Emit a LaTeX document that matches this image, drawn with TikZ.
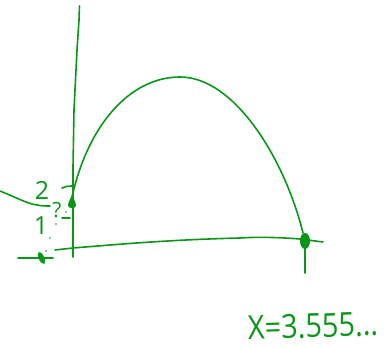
\documentclass[tikz,border=0pt]{standalone}
\usepackage{fontspec}
\setsansfont{Open Sans}
\definecolor{penGreen}{RGB}{10,150,25}
\tikzset{
  pen/.style={draw=penGreen,line width=1.6pt,line cap=round,line join=round},
  blob/.style={fill=penGreen},
  dot/.style={fill=penGreen,radius=.9},
  scrawl/.style={text=penGreen,inner sep=0pt}
}
\begin{document}
\begin{tikzpicture}[x=1pt,y=-1pt]
\path[use as bounding box] (0,0) rectangle (391,347);
% axes
\draw[pen] (79.5,6) -- (79,20) -- (77,50) -- (75,90) -- (74,110) -- (73,167) -- (73,257);
\draw[pen] (18,258) -- (53,258);
\draw[pen] (55,250) -- (73,248) -- (110,245) .. controls (160,241) and (200,239) .. (240,238) .. controls (255,237) and (275,237) .. (300,239) -- (323,242);
\draw[pen] (305,247) -- (305,273);
% the arc
\draw[pen] (72,197) .. controls (88,125) and (130,77) .. (180,77) .. controls (235,77) and (285,160) .. (303,233);
% strokes by the left axis
\draw[pen] (62,188) .. controls (65,186.5) and (68,186) .. (72,186);
\draw[pen] (0,191) .. controls (15,197) and (28,204) .. (37,205) .. controls (42,206) and (46,206) .. (50,206);
\draw[pen] (62,218) -- (70,218);
% points
\fill[blob] (72,195) .. controls (74,199) and (76,203) .. (76,205.5) .. controls (76,209) and (68,209) .. (68,205.5) .. controls (68,203) and (70,199) .. (72,195) -- cycle;
\fill[blob] (305,241) ellipse[x radius=5,y radius=8];
\fill[blob,rotate around={25:(41.5,258)}] (41.5,258) ellipse[x radius=2.8,y radius=6.5];
\fill[dot] (66,212) circle;
\fill[dot] (56,224) circle;
\fill[dot] (50,238) circle;
\fill[dot] (46,251) circle;
% labels
\node[scrawl,font=\sffamily\fontsize{25}{26}\selectfont] (two) at (42,190) {2};
\node[scrawl,font=\sffamily\fontsize{25}{26}\selectfont] (one) at (41,226) {1};
\node[scrawl,font=\sffamily\fontsize{21}{22}\selectfont] (query) at (57,210) {?};
\node[scrawl,font=\sffamily\fontsize{33}{35}\selectfont,rotate=2] (root) at (313,326) {\scalebox{.875}[1]{X=3.555...}};
\end{tikzpicture}
\end{document}
